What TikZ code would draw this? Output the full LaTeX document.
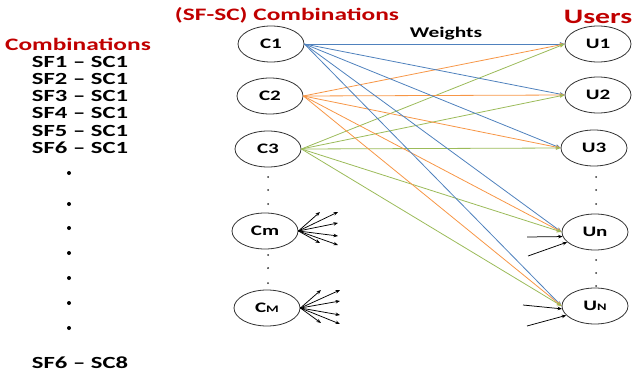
\documentclass[tikz,border=0pt]{standalone}
\usepackage{fontspec}
\setmainfont{Carlito}[FakeStretch=1.45]
\usetikzlibrary{shapes.geometric,arrows.meta}

\definecolor{hdred}{HTML}{C00000}
\definecolor{eblue}{HTML}{4F81BD}
\definecolor{eorange}{HTML}{F79646}
\definecolor{egreen}{HTML}{9BBB59}

\tikzset{
  cnode/.style={ellipse, draw=black!80, line width=0.8pt, minimum width=66pt,
    minimum height=36pt, inner sep=0pt, fill=white,
    font=\bfseries\fontsize{14.5}{16}\selectfont},
  listtext/.style={inner sep=0pt, font=\bfseries\fontsize{17}{19}\selectfont},
  heading/.style={inner sep=0pt, text=hdred, font=\bfseries\fontsize{17.5}{19}\selectfont},
  wt/.style={line width=0.8pt, -{Stealth[length=5pt,width=4pt]}},
  fan/.style={black, line width=0.75pt, -{Stealth[length=4.5pt,width=3.5pt]}},
}
\newcommand{\smallcap}[1]{{\fontsize{10}{10}\selectfont #1}}

\begin{document}
\begin{tikzpicture}[x=1pt,y=-1pt]
\useasboundingbox (0,0) rectangle (632,372);

% headings
\node[heading] (title) at (287,15) {(SF-SC) Combinations};
\node[heading, font=\bfseries\fontsize{20.5}{22}\selectfont] (users) at (598,17) {Users};
\node[heading] (comb) at (78,44) {Combinations};
\node[inner sep=0pt, font=\bfseries\fontsize{14.8}{16}\selectfont] (wlabel) at (446,34) {Weights};

% list of feature/cluster pairs
\node[listtext] (l1) at (80,62) {SF1 -- SC1};
\node[listtext] (l2) at (80,79) {SF2 -- SC1};
\node[listtext] (l3) at (80,96) {SF3 -- SC1};
\node[listtext] (l4) at (80,113) {SF4 -- SC1};
\node[listtext] (l5) at (80,131) {SF5 -- SC1};
\node[listtext] (l6) at (80,148) {SF6 -- SC1};
\node[listtext] (l8) at (80,363) {SF6 -- SC8};
\foreach \y in {173,204,228,253,278,303,328}
  \fill (69,\y) circle (2pt);

% combination nodes
\node[cnode] (c1) at (271,44) {C1};
\node[cnode] (c2) at (270,96) {C2};
\node[cnode] (c3) at (268,149) {C3};
\node[cnode] (cm) at (265,231) {Cm};
\node[cnode] (cM) at (267,308) {C\smallcap{M}};

% user nodes
\node[cnode] (u1) at (598,44) {U1};
\node[cnode] (u2) at (598,95) {U2};
\node[cnode] (u3) at (594,148) {U3};
\node[cnode] (un) at (595,232) {Un};
\node[cnode] (uN) at (595,306) {U\smallcap{N}};

% vertical ellipsis dots
\foreach \y in {177,190,204,255,268,283}
  \fill[black!80] (268,\y) circle (1pt);
\foreach \y in {177,190,204,260,273,286}
  \fill[black!80] (596,\y) circle (1pt);

% weighted connections
\foreach \u in {u1,u2,u3,un,uN} {
  \draw[wt, eblue] (c1.east) -- (\u.west);
  \draw[wt, eorange] (c2.east) -- (\u.west);
  \draw[wt, egreen] (c3.east) -- (\u.west);
}

% outgoing fans
\coordinate (fa1) at (320,212); \coordinate (fa2) at (338,212);
\coordinate (fa3) at (338,223); \coordinate (fa4) at (338,236);
\coordinate (fa5) at (320,243); \coordinate (fa6) at (338,245);
\foreach \t in {fa1,fa2,fa3,fa4,fa5,fa6}
  \draw[fan] (cm.east) -- (\t);
\coordinate (fb1) at (321,290); \coordinate (fb2) at (340,290);
\coordinate (fb3) at (340,301); \coordinate (fb4) at (340,315);
\coordinate (fb5) at (321,323); \coordinate (fb6) at (340,324);
\foreach \t in {fb1,fb2,fb3,fb4,fb5,fb6}
  \draw[fan] (cM.east) -- (\t);

% incoming arrows
\coordinate (ia1) at (527,237); \coordinate (ia2) at (528,256);
\coordinate (ib1) at (523,305); \coordinate (ib2) at (527,326);
\draw[fan] (ia1) -- (un.188);
\draw[fan] (ia2) -- (un.200);
\draw[fan] (ib1) -- (uN.185);
\draw[fan] (ib2) -- (uN.198);
\end{tikzpicture}
\end{document}
